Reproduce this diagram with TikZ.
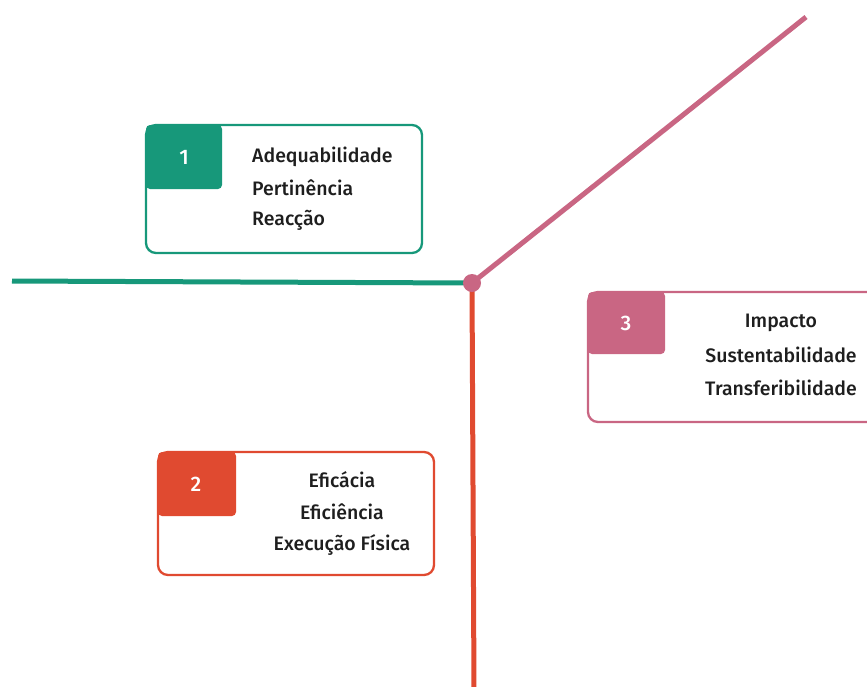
\documentclass[tikz,border=0pt]{standalone}
\usepackage{fontspec}
\setmainfont{Fira Sans}[UprightFont=* Medium]
\definecolor{cgreen}{HTML}{17987A}
\definecolor{cpink}{HTML}{C96683}
\definecolor{cred}{HTML}{E04A30}
\definecolor{ctext}{HTML}{1E1E1E}
\begin{document}
\begin{tikzpicture}[x=1pt,y=-1pt,
  outerbox/.style={draw=#1, line width=2.3pt, rounded corners=10pt},
  tabbox/.style={fill=#1, rounded corners=4pt},
  numtext/.style={text=white, font=\fontsize{21}{24}\selectfont},
  itemtext/.style={text=ctext, font=\fontsize{19.5}{24}\selectfont, inner sep=0pt},
  branch/.style={draw=#1, line width=5pt}]
\useasboundingbox (0,0) rectangle (867,686);
% lines
\coordinate (hub) at (472,283);
\coordinate (gL) at (12,281);
\coordinate (pT) at (806,17);
\coordinate (rB) at (474,690);
\draw[branch=cgreen] (gL) -- (hub);
\draw[branch=cred] (hub) -- (rB);
\draw[branch=cpink] (hub) -- (pT);
\node[circle, fill=cpink, minimum size=18pt, inner sep=0pt] (dot) at (hub) {};
% box 1
\draw[outerbox=cgreen] (146,125) rectangle (422,253);
\fill[tabbox=cgreen] (146,125) rectangle (222,189);
\node[numtext] (n1) at (184,157) {1};
\node[itemtext, anchor=west] (a1) at (252,157) {Adequabilidade};
\node[itemtext, anchor=west] (a2) at (252,188) {Pertinência};
\node[itemtext, anchor=west] (a3) at (252,220) {Reacção};
% box 2
\draw[outerbox=cred] (158,452) rectangle (434,575);
\fill[tabbox=cred] (158,452) rectangle (236,516);
\node[numtext] (n2) at (196,484) {2};
\node[itemtext] (b1) at (342,480) {Eficácia};
\node[itemtext] (b2) at (342,512) {Eficiência};
\node[itemtext] (b3) at (342,545) {Execução Física};
% box 3
\draw[outerbox=cpink] (588,292) rectangle (880,422);
\fill[tabbox=cpink] (588,292) rectangle (665,354);
\node[numtext] (n3) at (626,323) {3};
\node[itemtext] (c1) at (781,323) {Impacto};
\node[itemtext] (c2) at (781,355) {Sustentabilidade};
\node[itemtext] (c3) at (781,388) {Transferibilidade};
\end{tikzpicture}
\end{document}
